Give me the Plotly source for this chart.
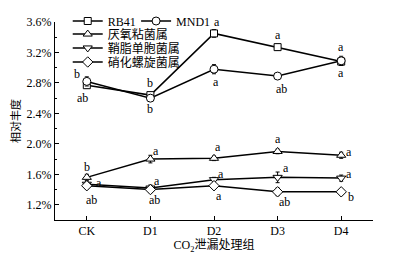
import plotly.graph_objects as go

categories = ["CK", "D1", "D2", "D3", "D4"]

series_names = ["RB41", "MND1", "厌氧粘菌属", "鞘脂单胞菌属", "硝化螺旋菌属"]
rb41 = [2.77, 2.64, 3.45, 3.27, 3.08]
mnd1 = [2.82, 2.60, 2.98, 2.89, 3.09]
anaero = [1.56, 1.80, 1.81, 1.90, 1.85]
sphingo = [1.47, 1.42, 1.53, 1.56, 1.55]
nitro = [1.45, 1.40, 1.45, 1.37, 1.37]

rb41_err = [0.04, 0.03, 0.05, 0.04, 0.05]
mnd1_err = [0.06, 0.03, 0.06, 0.03, 0.06]
anaero_err = [0.04, 0.05, 0.03, 0.03, 0.04]
sphingo_err = [0.03, 0.04, 0.03, 0.07, 0.04]
nitro_err = [0.04, 0.04, 0.03, 0.05, 0.03]

rb41_letters = ["ab", "b", "a", "a", "a"]
mnd1_letters = ["b", "b", "a", "ab", "a"]
anaero_letters = ["b", "a", "a", "a", "a"]
sphingo_letters = ["a", "a", "a", "a", "a"]
nitro_letters = ["ab", "ab", "a", "ab", "b"]

values = [rb41, mnd1, anaero, sphingo, nitro]
errors = [rb41_err, mnd1_err, anaero_err, sphingo_err, nitro_err]
letters = [rb41_letters, mnd1_letters, anaero_letters, sphingo_letters, nitro_letters]
symbols = ["square", "circle", "triangle-up", "triangle-down", "diamond"]
sizes = [7, 8, 8, 8, 8]

# label offsets (px) relative to each point
offsets = [
    [(-4, -13), (0, 12), (3, 11), (0, 12), (0, 15)],     # RB41
    [(-10, 7), (0, -11), (2, -13), (4, -13), (0, -12)],   # MND1
    [(0, 10), (6, 8), (4, 11), (0, 12), (8, 3)],          # anaero
    [(12, 1), (7, 7), (7, 6), (8, 9), (8, 4)],            # sphingo
    [(5, -14), (4, -10), (5, -10), (7, -10), (10, -5)],   # nitro
]

SERIF = "Liberation Serif, 'Times New Roman', 'Noto Sans CJK SC', serif"

fig = go.Figure()
legend_ids = ["legend", "legend2", "legend3", "legend4", "legend5"]
for i, name in enumerate(series_names):
    fig.add_trace(go.Scatter(
        x=categories, y=values[i], name=name, mode="lines+markers",
        line=dict(color="black", width=1.5),
        marker=dict(symbol=symbols[i], size=sizes[i], color="white",
                    line=dict(width=1, color="black")),
        error_y=dict(type="data", array=errors[i], color="black", thickness=1, width=2),
        legend=legend_ids[i],
    ))

annotations = []
for i in range(len(series_names)):
    for j, c in enumerate(categories):
        dx, dy = offsets[i][j]
        annotations.append(dict(
            x=c, y=values[i][j], text=letters[i][j], showarrow=False,
            xshift=dx, yshift=dy, font=dict(family=SERIF, size=12, color="black"),
        ))

legend_pos = [(0.04, 1.005), (0.255, 1.005), (0.04, 0.939), (0.04, 0.869), (0.04, 0.798)]
legend_layouts = {}
for k, lid in enumerate(legend_ids):
    legend_layouts[lid] = dict(
        x=legend_pos[k][0], y=legend_pos[k][1], xanchor="left", yanchor="middle",
        bgcolor="rgba(0,0,0,0)", borderwidth=0,
        font=dict(family=SERIF, size=12, color="black"),
        itemwidth=30,
    )

# page body has an 8px default margin, so the figure is sized/shifted to compensate
fig.update_layout(
    width=385, height=251,
    margin=dict(l=47, r=20, t=14, b=39, autoexpand=False),
    paper_bgcolor="white", plot_bgcolor="white",
    showlegend=True,
    annotations=annotations,
    font=dict(family=SERIF, size=12, color="black"),
    xaxis=dict(
        range=[-0.5, 4.5], showline=True, linecolor="black", linewidth=1,
        ticks="inside", ticklen=4, tickcolor="black", showgrid=False, zeroline=False,
        title=dict(text="CO<sub>2</sub>泄漏处理组", font=dict(family=SERIF, size=12), standoff=3),
        tickfont=dict(family=SERIF, size=12),
    ),
    yaxis=dict(
        range=[1.0, 3.6], dtick=0.4, tick0=1.2, tickformat=".1f", ticksuffix="%",
        showline=True, linecolor="black", linewidth=1,
        ticks="inside", ticklen=4, tickcolor="black", showgrid=False, zeroline=False,
        minor=dict(ticks="inside", ticklen=2, dtick=0.2, tick0=1.0, tickcolor="black", showgrid=False),
        title=dict(text="相对丰度", font=dict(family=SERIF, size=11), standoff=3),
        tickfont=dict(family=SERIF, size=12),
    ),
    **legend_layouts,
)

fig.write_html("out.html")
